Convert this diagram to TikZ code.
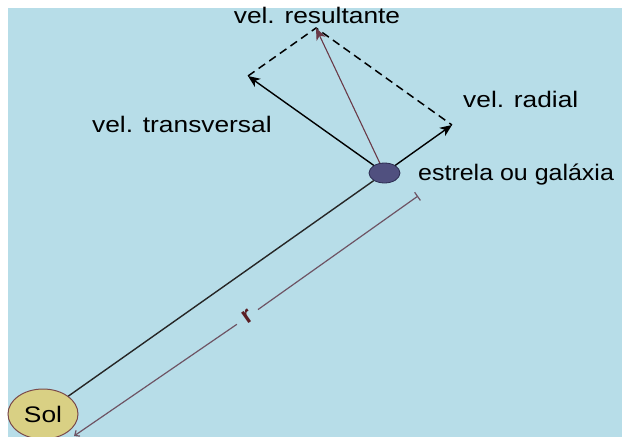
\documentclass[tikz,border=0pt]{standalone}
\usepackage{fontspec}
\usepackage{graphicx}
\setmainfont{Liberation Sans}
\usetikzlibrary{arrows.meta,shapes.geometric}
\definecolor{bgblue}{HTML}{B7DDE8}
\definecolor{solfill}{HTML}{D9D084}
\definecolor{solline}{HTML}{7A4A4A}
\definecolor{starfill}{HTML}{50507F}
\definecolor{starline}{HTML}{2C2C50}
\definecolor{resline}{HTML}{6A3A48}
\definecolor{dimcol}{HTML}{6E5464}
\definecolor{rred}{HTML}{5A1E24}
\newcommand\stx[1]{\scalebox{1.17}[1]{#1}}
\begin{document}
\begin{tikzpicture}[x=1pt,y=-1pt,
  lbl/.style={font=\fontsize{22.5}{27}\selectfont, inner sep=0pt, text=black},
  vec/.style={line width=1.4pt, draw=black, -{Stealth[length=12pt,width=10pt,inset=3.5pt]}},
  resvec/.style={vec, draw=resline, line width=1.1pt},
  mainline/.style={line width=1.4pt, draw=black!85},
  dashline/.style={line width=1.5pt, draw=black, dash pattern=on 8pt off 5pt},
  dimstyle/.style={line width=1.2pt, draw=dimcol},
  solnode/.style={ellipse, draw=solline, line width=1pt, fill=solfill, minimum width=70pt, minimum height=50pt, inner sep=0pt, font=\fontsize{22.5}{27}\selectfont},
  starnode/.style={ellipse, draw=starline, line width=0.8pt, fill=starfill, minimum width=31pt, minimum height=20pt, inner sep=0pt},
  rlabel/.style={font=\fontsize{24}{27}\selectfont, text=rred, rotate=35, inner xsep=8pt, inner ysep=2pt}]
\useasboundingbox (0,0) rectangle (622,437);
\clip (0,0) rectangle (622,437);
\fill[white] (0,0) rectangle (622,437);
\fill[bgblue] (8,8) rectangle (622,437);
% nodes
\node[solnode] (sol) at (43,414) {\stx{Sol}};
\node[starnode] (star) at (384.5,173) {};
\coordinate (rad) at (452,125);
\coordinate (tra) at (248,76);
\coordinate (res) at (316,28);
% connectors
\draw[mainline] (sol) -- (star);
\draw[dashline] (tra) -- (res) -- (rad);
\draw[vec] (star) -- (rad);
\draw[vec] (star) -- (tra);
\draw[resvec] (star) -- (res);
% dimension r
\coordinate (d0) at (74,436);
\coordinate (d1) at (418,196);
\node[rlabel] (r) at (247.5,317) {\textbf{r}};
\draw[dimstyle, {Straight Barb[length=4pt,width=7pt]}-] (d0) -- (r);
\draw[dimstyle, -{Bar[width=10pt]}] (r) -- (d1);
% labels
\node[lbl, anchor=base] (tres) at (317,23) {\stx{vel. resultante}};
\node[lbl, anchor=base west] (ttra) at (92,132) {\stx{vel. transversal}};
\node[lbl, anchor=base west] (trad) at (463,107) {\stx{vel. radial}};
\node[lbl, anchor=base west] (tstar) at (418,180) {\scalebox{1.11}[1]{estrela ou galáxia}};
\end{tikzpicture}
\end{document}
